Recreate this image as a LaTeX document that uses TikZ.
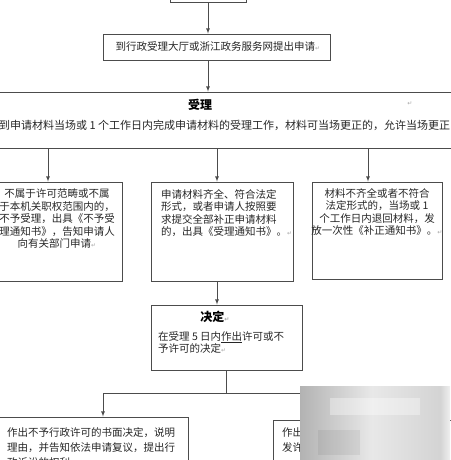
\documentclass[tikz,border=0pt]{standalone}
\usepackage{fontspec}
\setmainfont{Noto Sans CJK SC}
\newfontfamily\symfont{DejaVu Sans}
\newcommand{\parmark}{{\color{black!35}\symfont\fontsize{6}{6}\selectfont ↵}}

\begin{document}
\begin{tikzpicture}[x=1pt, y=1pt,
        box/.style = {draw = black!70, line width = 0.9pt, inner sep = 0pt},
        txt/.style = {inner sep = 0pt, text = black!85, font = \fontsize{10.5}{12.5}\selectfont},
        ttl/.style = {inner sep = 0pt, font = \fontsize{12}{12}\selectfont\bfseries},
        link/.style = {draw = black!70, line width = 0.8pt},
        arr/.style = {link, -latex}]
        \useasboundingbox (0, 0) rectangle (450, 460);

        % boxes
        \node (start) at (208, 466.5) [box, minimum width = 76, minimum height = 17] {};
        \node (apply) at (216.5, 413) [box, minimum width = 227, minimum height = 26] {};
        \node (accept) at (225, 340) [box, minimum width = 460, minimum height = 56] {};
        \node (refuse) at (48, 228.5) [box, minimum width = 148, minimum height = 99] {};
        \node (accepted) at (222, 228.5) [box, minimum width = 142, minimum height = 99] {};
        \node (correct) at (377, 229.5) [box, minimum width = 130, minimum height = 97] {};
        \node (decide) at (226.5, 122.5) [box, minimum width = 151, minimum height = 65] {};
        \node (deny) at (91.5, 16.5) [box, minimum width = 193, minimum height = 53] {};
        \node (permit) at (371.5, 15) [box, minimum width = 197, minimum height = 50] {};

        % texts
        \node (applytxt) at (218, 413) [txt] {到行政受理大厅或浙江政务服务网提出申请\parmark};
        \node (acceptttl) at (200, 355) [ttl] {受理};
        \node (acceptmark) at (410, 356) [txt] {\parmark};
        \node (accepttxt) at (-1, 335) [txt, anchor = west, font = \fontsize{11}{13}\selectfont]
            {到申请材料当场或 1 个工作日内完成申请材料的受理工作，材料可当场更正的，允许当场更正};
        \node (refusetxt) at (57, 241) [txt, align = center]
            {不属于许可范畴或不属\\于本机关职权范围内的，\\不予受理，出具《不予受\\理通知书》，告知申请人\\向有关部门申请\parmark};
        \node (acceptedtxt) at (161, 247) [txt, anchor = west, align = left]
            {申请材料齐全、符合法定\\形式，或者申请人按照要\\求提交全部补正申请材料\\的，出具《受理通知书》。\parmark};
        \node (correcttxt) at (377, 248) [txt, align = center]
            {材料不齐全或者不符合\\法定形式的，当场或 1\\个工作日内退回材料，发\\放一次性《补正通知书》。\parmark};
        \node (decidettl) at (215, 143) [ttl] {决定\parmark};
        \node (decidetxt) at (158, 117.5) [txt, anchor = west, align = left]
            {在受理 5 日内\underline{作出}许可或不\\予许可的决定\parmark};
        \node (denytxt) at (7, 13) [txt, anchor = west, align = left, font = \fontsize{10.5}{15}\selectfont]
            {作出不予行政许可的书面决定，说明\\理由，并告知依法申请复议，提出行\\政诉讼的权利。};
        \node (permittxt) at (282, 13) [txt, anchor = west, align = left, font = \fontsize{10.5}{15}\selectfont]
            {作出准予行政许可的书面决定，颁\\发许可证件。\\};

        % connectors
        \coordinate (mtop) at ([xshift = -5]accepted.north);
        \coordinate (mbot) at ([xshift = -5]accepted.south);
        \coordinate (rtop) at ([xshift = -9]correct.north);
        \coordinate (dtop) at ([xshift = 11.5]deny.north);
        \coordinate (fork) at ([yshift = -23]decide.south);
        \draw[arr] (start) -- (start |- apply.north);
        \draw[arr] (apply.south -| start) -- (start |- accept.north);
        \draw[arr] (refuse |- accept.south) -- (refuse);
        \draw[arr] (mtop |- accept.south) -- (mtop);
        \draw[arr] (rtop |- accept.south) -- (rtop);
        \draw[arr] (mbot) -- (mbot |- decide.north);
        \draw[link] (decide) -- (fork);
        \draw[arr] (fork) -| (dtop);
        \draw[arr] (fork) -| (permit.north);

        % blurred watermark
        \shade[left color = black!30, right color = black!9] (300, 0) rectangle (372, 73);
        \shade[left color = black!9, right color = black!17] (372, 0) rectangle (440, 73);
        \shade[left color = black!17, right color = black!6] (440, 0) rectangle (450, 73);
        \fill[white, opacity = 0.35] (330, 45) rectangle (420, 62);
        \fill[black, opacity = 0.06] (318, 5) rectangle (360, 30);
    \end{tikzpicture}
\end{document}
